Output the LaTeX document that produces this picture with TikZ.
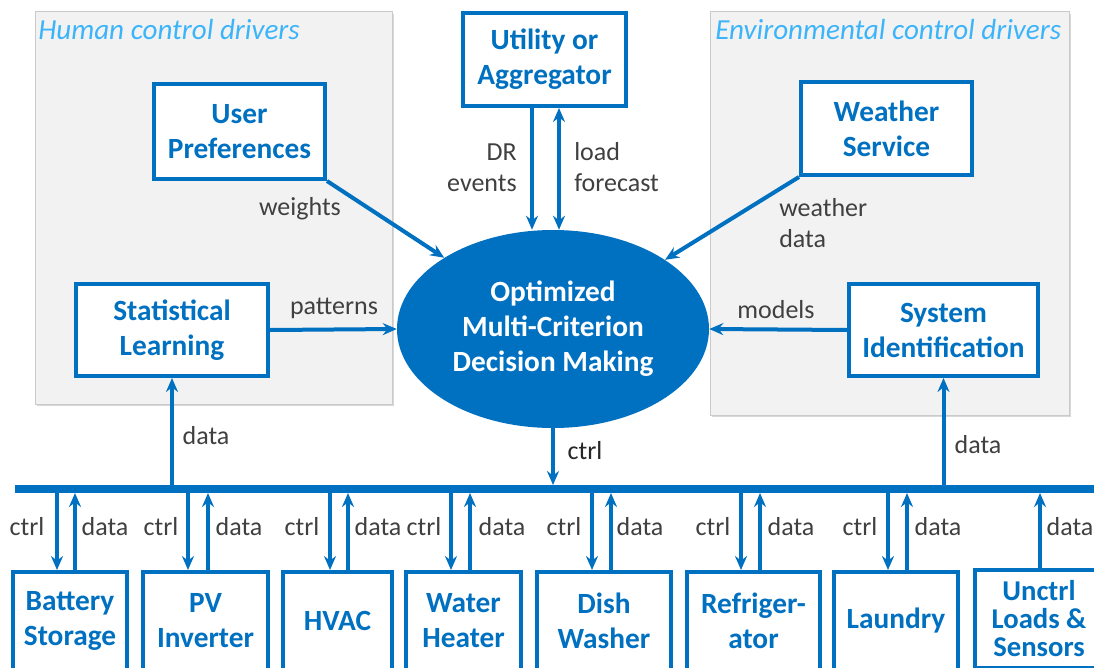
\documentclass[tikz,border=0pt]{standalone}
\usepackage{fontspec}
\setmainfont{Carlito}
\usetikzlibrary{arrows.meta,shadows,calc,shapes.geometric}
\definecolor{blu}{HTML}{0070C0}
\definecolor{ttl}{HTML}{3CB4FA}
\definecolor{lblc}{HTML}{404040}
\definecolor{pnl}{HTML}{F2F2F2}
\definecolor{pnlb}{HTML}{CACACA}
\tikzset{myt/.tip={Stealth[length=10.5pt,width=9pt,inset=3.5pt]}}
\begin{document}
\begin{tikzpicture}[x=0.75pt,y=-0.75pt,
  box/.style={draw=blu, line width=3pt, fill=white, text=blu, font=\bfseries\fontsize{22}{26.25}\selectfont, align=center, inner sep=0pt},
  lbl/.style={text=lblc, font=\fontsize{19.5}{23.25}\selectfont, inner sep=0pt, align=center},
  arr/.style={draw=blu, line width=3pt, -myt},
  darr/.style={draw=blu, line width=3pt, myt-myt},
  panel/.style={fill=pnl, draw=pnlb, line width=0.75pt, drop shadow={shadow xshift=1.5pt,shadow yshift=-1.5pt,opacity=0.3}},
  titl/.style={text=ttl, font=\itshape\fontsize{21.8}{25}\selectfont, anchor=west, inner sep=0pt}
]
\useasboundingbox (0,0) rectangle (1094,667);
\fill[white] (0,0) rectangle (1094,667);
\clip (0,0) rectangle (1094,667);

% panels
\draw[panel] (35,12) rectangle (392,404);
\draw[panel] (710,12) rectangle (1069,415);
\node[titl] (t1) at (38,30) {Human control drivers};
\node[titl] (t2) at (715,30) {Environmental control drivers};

% top boxes
\node[box, minimum width=128.25pt, minimum height=71.25pt] (pref) at (239.5,131.5) {User\\Preferences};
\node[box, minimum width=144pt, minimum height=69pt] (stat) at (172,330) {Statistical\\Learning};
\node[box, minimum width=122.25pt, minimum height=69.75pt] (util) at (544.5,59.5) {Utility or\\Aggregator};
\node[box, minimum width=128.25pt, minimum height=69.75pt] (wea) at (886.5,128.5) {Weather\\Service};
\node[box, minimum width=141.75pt, minimum height=69pt] (sys) at (943.5,330) {System\\Identification};

% ellipse
\node[ellipse, fill=blu, text=white, minimum width=234pt, minimum height=148.5pt, inner sep=0pt, align=center,
  font=\bfseries\fontsize{22}{26.25}\selectfont] (ell) at (553,329) {Optimized\\Multi-Criterion\\Decision Making};

% bus
\coordinate (busL) at (15,489);
\coordinate (busR) at (1100,489);
\coordinate (busT) at (0,485);
\coordinate (busB) at (0,493);
\draw[blu, line width=6pt] (busL) -- (busR);

% connectors to ellipse
\draw[arr] (pref.south east) -- (ell);
\draw[arr] (wea.south west) -- (ell);
\draw[arr] (stat.east) -- (ell.west);
\draw[arr] (sys.west) -- (ell.east);
\draw[arr] (util.south -| 532,0) -- (ell.north -| 532,0);
\draw[darr] (ell.north -| 559,0) -- (util.south -| 559,0);
\draw[arr] (ell.south) -- (busT -| ell.south);
\draw[arr] (busT -| stat.south) -- (stat.south);
\draw[arr] (busT -| sys.south) -- (sys.south);

% labels
\node[lbl] (lw) at (300,209) {weights};
\node[lbl] (lp) at (334,308) {patterns};
\node[lbl] (lm) at (776,310) {models};
\node[lbl, anchor=west, align=left] (lwd) at (779,223) {weather\\data};
\node[lbl, anchor=east, align=right] (ldr) at (517,167.5) {DR\\events};
\node[lbl, anchor=west, align=left] (llf) at (574,167.5) {load\\forecast};
\node[lbl, text=black!85] (lc) at (585,451) {ctrl};
\node[lbl] (ld1) at (206,436) {data};
\node[lbl] (ld2) at (978,445) {data};

% bottom boxes
\node[box, minimum width=85.5pt, minimum height=73.5pt] (bat) at (70,621) {Battery\\Storage};
\node[box, minimum width=93.75pt, minimum height=73.5pt] (pv) at (205.5,621) {PV\\Inverter};
\node[box, minimum width=81.75pt, minimum height=73.5pt] (hvac) at (337.5,621) {HVAC};
\node[box, minimum width=86.25pt, minimum height=73.5pt] (wh) at (463.5,621) {Water\\Heater};
\node[box, minimum width=100.5pt, minimum height=73.5pt] (dish) at (604,621) {Dish\\Washer};
\node[box, minimum width=99.75pt, minimum height=73.5pt] (fri) at (753.5,621) {Refriger-\\ator};
\node[box, minimum width=93pt, minimum height=73.5pt] (lau) at (896,621) {Laundry};
\node[box, minimum width=96pt, minimum height=73.5pt, font=\bfseries\fontsize{21.5}{21}\selectfont] (unc) at (1039,619) {Unctrl\\Loads \&\\Sensors};

\foreach \n/\c/\d/\lc/\ld in {bat/57/75/27/105, pv/188/208/161/239, hvac/330/348/302/378, wh/451/470/424/502, dish/592/611/564/640, fri/741/760/713/791, lau/888/907/860/938}{
  \draw[arr] (busB -| \c,0) -- (\n.north -| \c,0);
  \draw[arr] (\n.north -| \d,0) -- (busB -| \d,0);
  \node[lbl] (c\n) at (\lc,527) {ctrl};
  \node[lbl] (d\n) at (\ld,527) {data};
}
\draw[arr] (unc.north -| 1040,0) -- (busB -| 1040,0);
\node[lbl] (dunc) at (1070,527) {data};
\end{tikzpicture}
\end{document}
